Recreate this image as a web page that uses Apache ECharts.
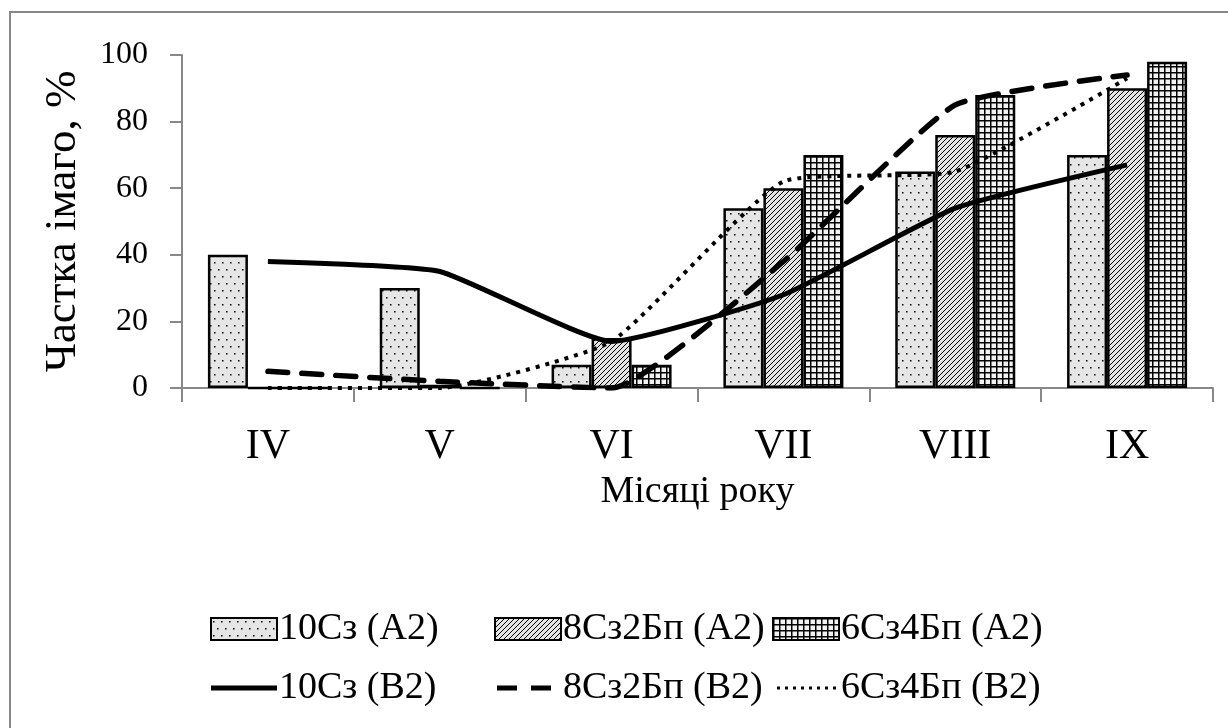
<!DOCTYPE html>
<html>
<head>
<meta charset="utf-8">
<title>Частка імаго</title>
<script src="https://cdn.jsdelivr.net/npm/echarts@6/dist/echarts.min.js"></script>
<style>
    html, body { margin: 0; padding: 0; background: #fff; }
    #chart { width: 1228px; height: 728px; }
</style>
</head>
<body>
<div id="chart"></div>
<script>
// data
var months = ['IV', 'V', 'VI', 'VII', 'VIII', 'IX'];
var yTicks = [0, 20, 40, 60, 80, 100];

var bar10A2 = [40, 30, 7, 54, 65, 70];
var bar8A2 = [0, 1, 15, 60, 76, 90];
var bar6A2 = [0, 0, 7, 70, 88, 98];

var line10B2 = [38, 35, 14, 28, 54, 67];
var line8B2 = [5, 2, 0, 38, 85, 94];
var line6B2 = [0, 0, 14, 62, 65, 93];

var names = ['10Сз (А2)', '8Сз2Бп (А2)', '6Сз4Бп (А2)', '10Сз (В2)', '8Сз2Бп (В2)', '6Сз4Бп (В2)'];

var FONT = "'Liberation Serif', 'Times New Roman', serif";

// legend icons for the line series (66x22 box, tiny corner marks keep the box size)
var ICON_BOX = 'M0,0h0.1v0.1h-0.1z M65.9,21.9h0.1v0.1h-0.1z ';
var iconSolid = 'path://' + ICON_BOX + 'M0,8.5H66V13.5H0Z';
var iconDash = 'path://' + ICON_BOX + 'M2,8.5H22V13.5H2Z M36,8.5H56V13.5H36Z';
var iconDot = 'path://' + ICON_BOX + (function () {
    var p = '';
    for (var i = 0; i < 8; i++) {
        var x = 4 + i * 8;
        p += 'M' + x + ',9.5h3v3h-3z ';
    }
    return p;
})();

/** dotted fill */
function dotPattern() {
    var c = document.createElement('canvas');
    c.width = 8; c.height = 14;
    var ctx = c.getContext('2d');
    ctx.fillStyle = '#e6e6e6';
    ctx.fillRect(0, 0, 8, 14);
    ctx.fillStyle = '#000';
    ctx.fillRect(2, 3, 1.5, 1.5);
    ctx.fillRect(6, 10, 1.5, 1.5);
    return c;
}

/** diagonal hatch fill */
function hatchPattern() {
    var c = document.createElement('canvas');
    c.width = 5; c.height = 5;
    var ctx = c.getContext('2d');
    ctx.fillStyle = '#e4e4e4';
    ctx.fillRect(0, 0, 5, 5);
    ctx.strokeStyle = '#000';
    ctx.lineWidth = 1;
    ctx.beginPath();
    ctx.moveTo(-1, 6); ctx.lineTo(6, -1);
    ctx.moveTo(-1, 1); ctx.lineTo(1, -1);
    ctx.moveTo(4, 6); ctx.lineTo(6, 4);
    ctx.stroke();
    return c;
}

/** small square grid fill */
function gridPattern() {
    var c = document.createElement('canvas');
    c.width = 6; c.height = 6;
    var ctx = c.getContext('2d');
    ctx.fillStyle = '#f2f2f2';
    ctx.fillRect(0, 0, 6, 6);
    ctx.fillStyle = '#000';
    ctx.fillRect(0, 0, 6, 1.5);
    ctx.fillRect(0, 0, 1.5, 6);
    return c;
}

function barSeries(name, data, pattern) {
    return {
        name: name,
        type: 'bar',
        data: data,
        barWidth: 40,
        barGap: '0%',
        itemStyle: {
            color: { image: pattern, repeat: 'repeat' },
            borderColor: '#000',
            borderWidth: 2.5
        },
        z: 2
    };
}

function lineSeries(name, data, width, type, cap) {
    return {
        name: name,
        type: 'line',
        data: data,
        symbol: 'none',
        smooth: 0.15,
        lineStyle: { color: '#000', width: width, type: type, cap: cap },
        itemStyle: { color: '#000' },
        z: 3
    };
}

function lineLegendItem(name, icon) {
    return {
        name: name,
        icon: icon,
        itemStyle: { color: '#000', borderWidth: 0 }
    };
}

function legendCol(left, items) {
    return {
        left: left,
        top: 610,
        padding: 0,
        orient: 'vertical',
        itemWidth: 66,
        itemHeight: 22,
        itemGap: 21,
        textStyle: { fontFamily: FONT, fontSize: 38, color: '#000', padding: [0, 0, 0, -3] },
        data: items
    };
}

var myChart = echarts.init(document.getElementById('chart'), null, { renderer: 'canvas' });

var option = {
    backgroundColor: '#fff',
    animation: false,
    graphic: [{
        type: 'rect',
        shape: { x: 10, y: 12, width: 1240, height: 740 },
        style: { fill: 'none', stroke: '#888', lineWidth: 2 },
        silent: true
    }],
    grid: { left: 182, right: 15, top: 55, bottom: 340 },
    legend: [
        legendCol(210, [{ name: names[0], icon: 'rect' }, lineLegendItem(names[3], iconSolid)]),
        legendCol(494, [{ name: names[1], icon: 'rect' }, lineLegendItem(names[4], iconDash)]),
        legendCol(772, [{ name: names[2], icon: 'rect' }, lineLegendItem(names[5], iconDot)])
    ],
    xAxis: {
        type: 'category',
        data: months,
        name: 'Місяці року',
        nameLocation: 'middle',
        nameGap: 85,
        nameTextStyle: { fontFamily: FONT, fontSize: 38, color: '#000' },
        axisLine: { lineStyle: { color: '#888', width: 2 } },
        axisTick: { show: true, length: 14, lineStyle: { color: '#888', width: 2 } },
        axisLabel: { fontFamily: FONT, fontSize: 42, color: '#000', margin: 38 }
    },
    yAxis: {
        type: 'value',
        min: yTicks[0],
        max: yTicks[yTicks.length - 1],
        interval: 20,
        name: 'Частка імаго, %',
        nameLocation: 'middle',
        nameGap: 96,
        nameTextStyle: { fontFamily: FONT, fontSize: 45, color: '#000' },
        axisLine: { show: true, lineStyle: { color: '#888', width: 2 } },
        axisTick: { show: true, length: 12, lineStyle: { color: '#888', width: 2 } },
        axisLabel: { fontFamily: FONT, fontSize: 32, color: '#000', margin: 34 },
        splitLine: { show: false }
    },
    series: [
        barSeries(names[0], bar10A2, dotPattern()),
        barSeries(names[1], bar8A2, hatchPattern()),
        barSeries(names[2], bar6A2, gridPattern()),
        lineSeries(names[3], line10B2, 5, 'solid', 'butt'),
        lineSeries(names[4], line8B2, 5.5, [20, 14], 'round'),
        lineSeries(names[5], line6B2, 4, [4, 6], 'butt')
    ]
};

myChart.setOption(option);
</script>
</body>
</html>
